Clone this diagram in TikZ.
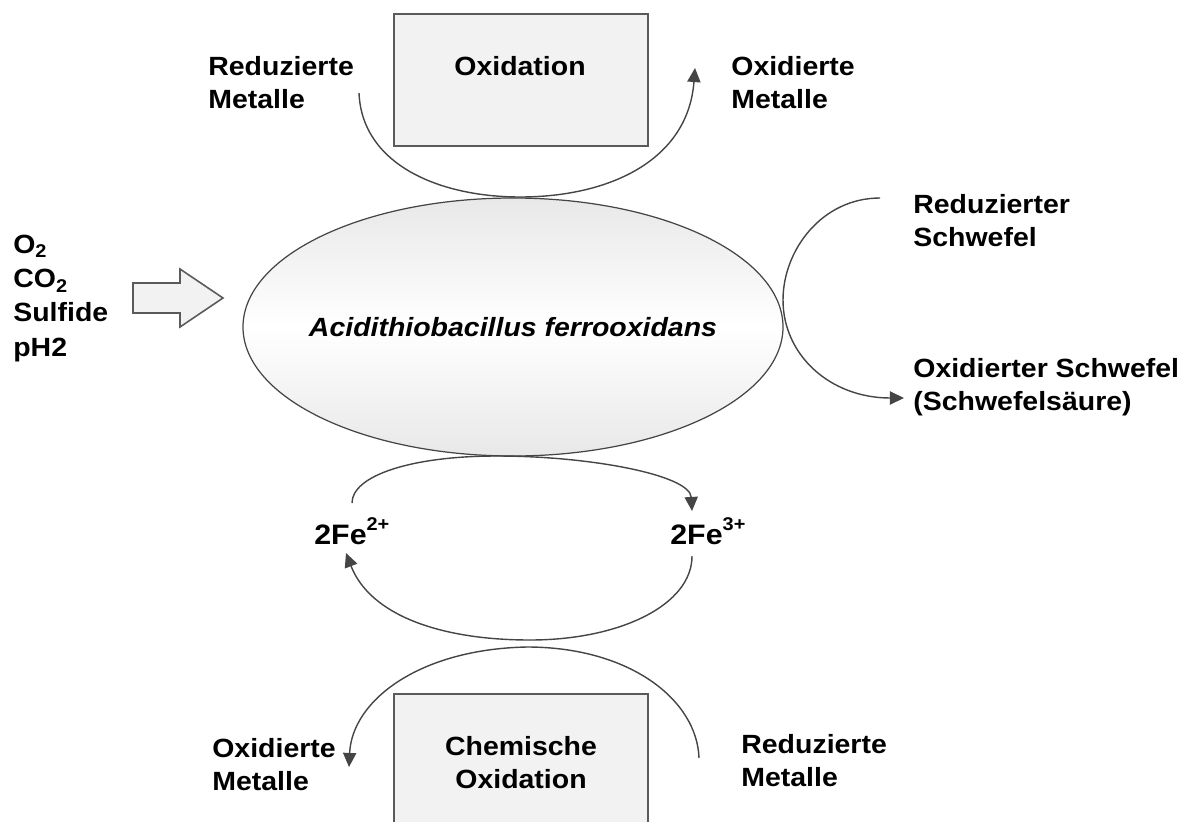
\documentclass[tikz,border=0pt]{standalone}
\usepackage{fontspec}
\setmainfont{Liberation Sans}[FakeStretch=1.08]
\usetikzlibrary{arrows.meta,shapes.geometric}
\definecolor{linec}{HTML}{454545}
\definecolor{boxfill}{HTML}{F2F2F2}
\definecolor{boxline}{HTML}{5A5A5A}
\newcommand{\ionsup}[1]{\raisebox{7.5pt}{\fontsize{10.5}{11}\selectfont #1}}
\begin{document}
\begin{tikzpicture}[x=0.02cm,y=-0.02cm,
  lbl/.style={font=\bfseries\fontsize{15}{18.7}\selectfont, align=left, inner sep=0pt},
  clbl/.style={lbl, align=center},
  ionlbl/.style={lbl, font=\bfseries\fontsize{16}{19}\selectfont},
  procbox/.style={draw=boxline, fill=boxfill, line width=0.9pt},
  flow/.style={draw=linec, line width=0.8pt},
  flowtip/.style={flow, -{Triangle[length=8pt,width=7.5pt]}}]
\useasboundingbox (0,0) rectangle (1182,821);
\begin{scope}
\clip (0,0) rectangle (1182,821);
% boxes
\node[procbox, minimum width=254*0.02cm, minimum height=132*0.02cm, anchor=north west] (oxbox) at (393,13) {};
\node[procbox, minimum width=254*0.02cm, minimum height=160*0.02cm, anchor=north west] (chembox) at (393,693) {};
\end{scope}
\node[clbl, anchor=north] (oxtxt) at (520,56) {Oxidation};
\node[clbl, anchor=north] (chemtxt) at (521,736) {Chemische\\Oxidation};

% central ellipse
\node[ellipse, draw=linec, line width=0.7pt, top color=black!9, bottom color=black!9, middle color=white,
      minimum width=540*0.02cm, minimum height=258*0.02cm, inner sep=0pt] (bact) at (513,327) {};
\node[font=\bfseries\itshape\fontsize{15}{18}\selectfont, inner sep=0pt] (bacttxt) at (bact.center) {Acidithiobacillus ferrooxidans};

% left inputs
\node[lbl, anchor=north west, font=\bfseries\fontsize{15}{19.4}\selectfont] (inputs) at (13,235) {O\textsubscript{2}\\CO\textsubscript{2}\\Sulfide\\pH2};
\draw[draw=boxline, fill=boxfill, line width=0.9pt] (133,283) -- (180,283) -- (180,269) -- (223,298) -- (180,327) -- (180,313) -- (133,313) -- cycle;

% top labels
\node[lbl, anchor=north west] (redmetT) at (208,56) {Reduzierte\\Metalle};
\node[lbl, anchor=north west] (oxmetT) at (731,56) {Oxidierte\\Metalle};
% right labels
\node[lbl, anchor=north west] (redS) at (913,194) {Reduzierter\\Schwefel};
\node[lbl, anchor=north west] (oxS) at (913,358) {Oxidierter Schwefel\\(Schwefelsäure)};
% iron
\node[ionlbl, anchor=base west] (fe2) at (314,544) {2Fe\ionsup{2+}};
\node[ionlbl, anchor=base west] (fe3) at (670,544) {2Fe\ionsup{3+}};
% bottom labels
\node[lbl, anchor=north west] (oxmetB) at (212,738) {Oxidierte\\Metalle};
\node[lbl, anchor=north west] (redmetB) at (741,734) {Reduzierte\\Metalle};

% coordinates for connectors
\coordinate (t1) at (359,93);
\coordinate (t2) at (520,197);
\coordinate (t3) at (695,68);
\coordinate (r1) at (880,198);
\coordinate (r2) at (783,300);
\coordinate (r3) at (904,398);
\coordinate (c1) at (352,503);
\coordinate (c2) at (497,456);
\coordinate (c3) at (692,511);
\coordinate (c4) at (692,556);
\coordinate (c5) at (530,640);
\coordinate (c6) at (346,553);
\coordinate (b1) at (699,758);
\coordinate (b2) at (527,647);
\coordinate (b3) at (349,767);

% top metal arc
\draw[flow] (t1) .. controls (362,165) and (440,197) .. (t2);
\draw[flowtip] (t2) .. controls (610,197) and (688,160) .. (t3);
% sulfur arc
\draw[flow] (r1) .. controls (822,198) and (783,250) .. (r2);
\draw[flowtip] (r2) .. controls (783,355) and (830,398) .. (r3);
% iron cycle
\draw[flow] (c1) .. controls (352,476) and (410,456) .. (c2);
\draw[flowtip] (c2) .. controls (590,456) and (690,475) .. (c3);
\draw[flow] (c4) .. controls (692,605) and (620,640) .. (c5);
\draw[flowtip] (c5) .. controls (440,640) and (370,615) .. (c6);
% chemical oxidation arc
\draw[flow] (b1) .. controls (697,700) and (630,647) .. (b2);
\draw[flowtip] (b2) .. controls (420,649) and (352,700) .. (b3);
\end{tikzpicture}
\end{document}
